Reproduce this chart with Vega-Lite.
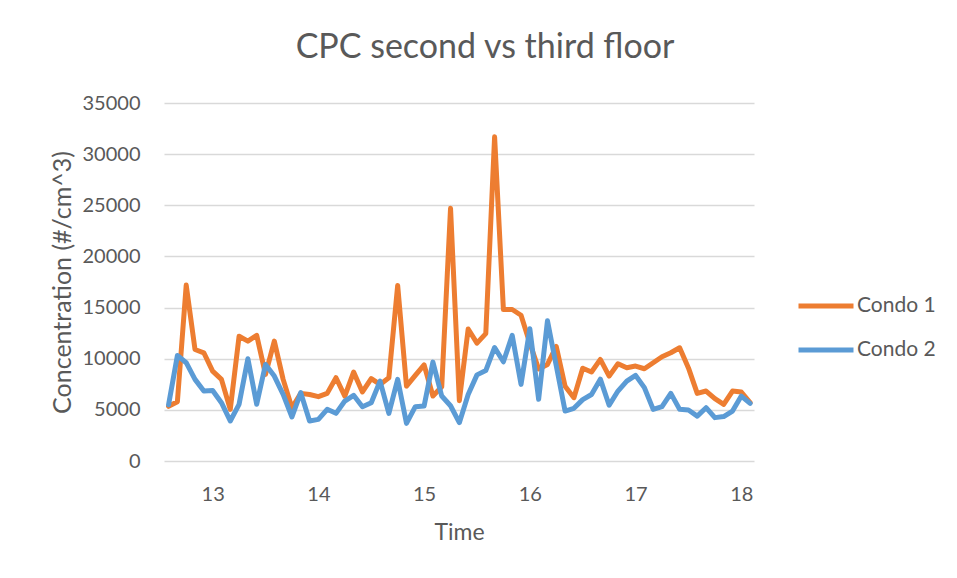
{
  "$schema": "https://vega.github.io/schema/vega-lite/v6.json",
  "autosize": "none",
  "width": 590,
  "height": 358,
  "padding": {"left": 164, "top": 103, "right": 203, "bottom": 117},
  "background": "white",
  "title": {
    "text": "CPC second vs third floor",
    "anchor": "middle",
    "frame": "group",
    "dx": 26,
    "offset": 28,
    "font": "Lato",
    "fontSize": 34,
    "fontWeight": "normal",
    "color": "#595959"
  },
  "data": {
    "values": [
      {"t": 12.5833, "Condo 1": 5350, "Condo 2": 5500},
      {"t": 12.6667, "Condo 1": 5800, "Condo 2": 10320},
      {"t": 12.75, "Condo 1": 17200, "Condo 2": 9610},
      {"t": 12.8333, "Condo 1": 10900, "Condo 2": 7980},
      {"t": 12.9167, "Condo 1": 10580, "Condo 2": 6840},
      {"t": 13, "Condo 1": 8790, "Condo 2": 6900},
      {"t": 13.0833, "Condo 1": 7980, "Condo 2": 5700},
      {"t": 13.1667, "Condo 1": 5050, "Condo 2": 3910},
      {"t": 13.25, "Condo 1": 12200, "Condo 2": 5540},
      {"t": 13.3333, "Condo 1": 11720, "Condo 2": 10000},
      {"t": 13.4167, "Condo 1": 12280, "Condo 2": 5540},
      {"t": 13.5, "Condo 1": 8470, "Condo 2": 9440},
      {"t": 13.5833, "Condo 1": 11720, "Condo 2": 8300},
      {"t": 13.6667, "Condo 1": 7980, "Condo 2": 6510},
      {"t": 13.75, "Condo 1": 5210, "Condo 2": 4300},
      {"t": 13.8333, "Condo 1": 6610, "Condo 2": 6680},
      {"t": 13.9167, "Condo 1": 6500, "Condo 2": 3910},
      {"t": 14, "Condo 1": 6290, "Condo 2": 4070},
      {"t": 14.0833, "Condo 1": 6610, "Condo 2": 5050},
      {"t": 14.1667, "Condo 1": 8140, "Condo 2": 4660},
      {"t": 14.25, "Condo 1": 6350, "Condo 2": 5860},
      {"t": 14.3333, "Condo 1": 8690, "Condo 2": 6420},
      {"t": 14.4167, "Condo 1": 6750, "Condo 2": 5310},
      {"t": 14.5, "Condo 1": 8060, "Condo 2": 5700},
      {"t": 14.5833, "Condo 1": 7490, "Condo 2": 7810},
      {"t": 14.6667, "Condo 1": 8140, "Condo 2": 4660},
      {"t": 14.75, "Condo 1": 17160, "Condo 2": 7980},
      {"t": 14.8333, "Condo 1": 7320, "Condo 2": 3680},
      {"t": 14.9167, "Condo 1": 8370, "Condo 2": 5310},
      {"t": 15, "Condo 1": 9400, "Condo 2": 5370},
      {"t": 15.0833, "Condo 1": 6350, "Condo 2": 9670},
      {"t": 15.1667, "Condo 1": 7250, "Condo 2": 6350},
      {"t": 15.25, "Condo 1": 24700, "Condo 2": 5400},
      {"t": 15.3333, "Condo 1": 5900, "Condo 2": 3750},
      {"t": 15.4167, "Condo 1": 12900, "Condo 2": 6510},
      {"t": 15.5, "Condo 1": 11520, "Condo 2": 8420},
      {"t": 15.5833, "Condo 1": 12450, "Condo 2": 8840},
      {"t": 15.6667, "Condo 1": 31700, "Condo 2": 11100},
      {"t": 15.75, "Condo 1": 14810, "Condo 2": 9700},
      {"t": 15.8333, "Condo 1": 14810, "Condo 2": 12280},
      {"t": 15.9167, "Condo 1": 14250, "Condo 2": 7490},
      {"t": 16, "Condo 1": 11500, "Condo 2": 12930},
      {"t": 16.0833, "Condo 1": 9000, "Condo 2": 6030},
      {"t": 16.1667, "Condo 1": 9440, "Condo 2": 13720},
      {"t": 16.25, "Condo 1": 11200, "Condo 2": 9300},
      {"t": 16.3333, "Condo 1": 7300, "Condo 2": 4880},
      {"t": 16.4167, "Condo 1": 6190, "Condo 2": 5150},
      {"t": 16.5, "Condo 1": 9070, "Condo 2": 6000},
      {"t": 16.5833, "Condo 1": 8700, "Condo 2": 6500},
      {"t": 16.6667, "Condo 1": 9930, "Condo 2": 8000},
      {"t": 16.75, "Condo 1": 8300, "Condo 2": 5450},
      {"t": 16.8333, "Condo 1": 9510, "Condo 2": 6840},
      {"t": 16.9167, "Condo 1": 9120, "Condo 2": 7810},
      {"t": 17, "Condo 1": 9280, "Condo 2": 8370},
      {"t": 17.0833, "Condo 1": 9020, "Condo 2": 7170},
      {"t": 17.1667, "Condo 1": 9610, "Condo 2": 5050},
      {"t": 17.25, "Condo 1": 10190, "Condo 2": 5310},
      {"t": 17.3333, "Condo 1": 10580, "Condo 2": 6610},
      {"t": 17.4167, "Condo 1": 11070, "Condo 2": 5050},
      {"t": 17.5, "Condo 1": 9100, "Condo 2": 4980},
      {"t": 17.5833, "Condo 1": 6610, "Condo 2": 4390},
      {"t": 17.6667, "Condo 1": 6840, "Condo 2": 5210},
      {"t": 17.75, "Condo 1": 6090, "Condo 2": 4240},
      {"t": 17.8333, "Condo 1": 5540, "Condo 2": 4340},
      {"t": 17.9167, "Condo 1": 6840, "Condo 2": 4880},
      {"t": 18, "Condo 1": 6740, "Condo 2": 6350},
      {"t": 18.0833, "Condo 1": 5700, "Condo 2": 5630}
    ]
  },
  "transform": [{"fold": ["Condo 1", "Condo 2"], "as": ["series", "value"]}],
  "mark": {"type": "line", "strokeWidth": 5, "strokeCap": "round", "strokeJoin": "round"},
  "encoding": {
    "x": {
      "field": "t",
      "type": "quantitative",
      "scale": {"domain": [12.54, 18.12], "nice": false, "zero": false},
      "axis": {
        "title": "Time",
        "values": [13, 14, 15, 16, 17, 18],
        "format": "d",
        "grid": false,
        "domain": false,
        "ticks": false,
        "tickSize": 0,
        "labelPadding": 23,
        "labelFont": "Lato",
        "labelFontSize": 20,
        "labelColor": "#595959",
        "titleFont": "Lato",
        "titleFontSize": 23,
        "titleFontWeight": "normal",
        "titleColor": "#595959",
        "titleBaseline": "alphabetic",
        "titleY": 78
      }
    },
    "y": {
      "field": "value",
      "type": "quantitative",
      "scale": {"domain": [0, 35000], "nice": false},
      "axis": {
        "title": "Concentration (#/cm^3)",
        "values": [0, 5000, 10000, 15000, 20000, 25000, 30000, 35000],
        "format": "d",
        "grid": true,
        "gridColor": "#d9d9d9",
        "gridWidth": 1.3,
        "domain": false,
        "ticks": false,
        "tickSize": 0,
        "labelPadding": 24,
        "labelFont": "Lato",
        "labelFontSize": 20,
        "labelColor": "#595959",
        "titleFont": "Lato",
        "titleFontSize": 25,
        "titleFontWeight": "normal",
        "titleColor": "#595959",
        "titleAngle": -90,
        "titleBaseline": "alphabetic",
        "titleAlign": "center",
        "titleX": -94,
        "titleY": 179
      }
    },
    "color": {
      "field": "series",
      "type": "nominal",
      "scale": {"domain": ["Condo 1", "Condo 2"], "range": ["#ED7D31", "#5B9BD5"]},
      "legend": {
        "title": null,
        "orient": "none",
        "legendX": 632,
        "legendY": 173,
        "padding": 0,
        "symbolType": "stroke",
        "symbolSize": 3025,
        "symbolStrokeWidth": 5,
        "labelOffset": 1,
        "labelFont": "Lato",
        "labelFontSize": 21,
        "labelColor": "#595959",
        "rowPadding": 4
      }
    }
  },
  "config": {"view": {"stroke": null}}
}
